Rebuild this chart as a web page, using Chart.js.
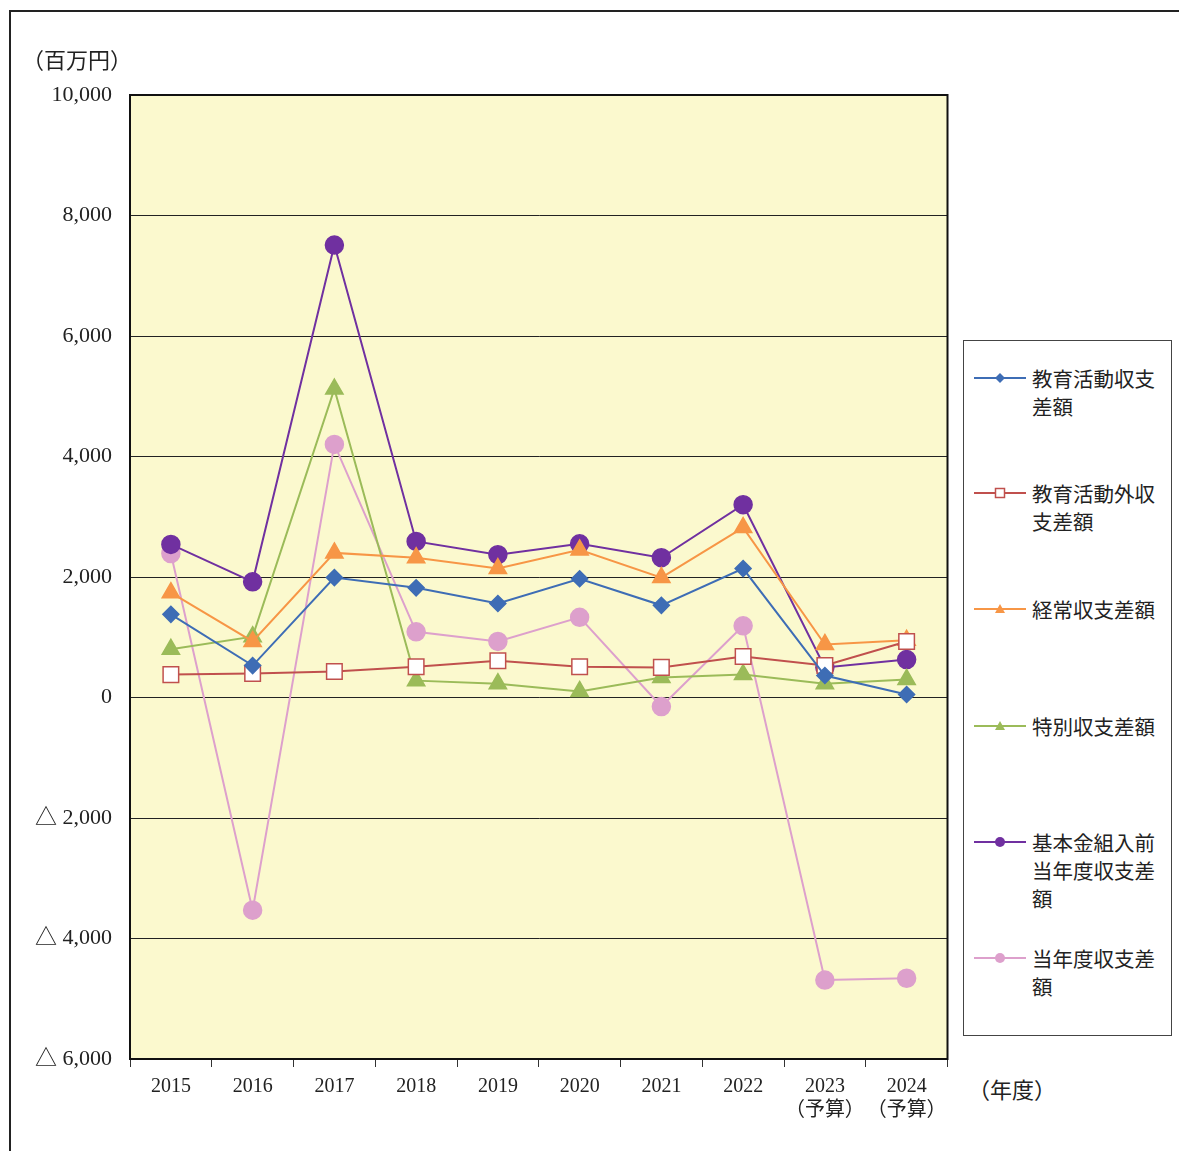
<!DOCTYPE html>
<html>
<head>
<meta charset="utf-8">
<script src="https://cdn.jsdelivr.net/npm/chart.js@4/dist/chart.umd.min.js"></script>
<style>
  body { margin: 0; background: #fff; font-family: "Liberation Serif", "Noto Sans CJK JP", serif; }
  #wrap { position: relative; width: 1179px; height: 1151px; overflow: hidden; }
  #frame { position: absolute; left: 9px; top: 10px; width: 1200px; height: 1200px; border-left: 2px solid #222; border-top: 2px solid #222; }
  #cv { position: absolute; left: 0; top: 0; }
  .lbl { position: absolute; font-size: 22px; color: #222; font-family: "Noto Sans CJK JP", sans-serif; }
  #legend { position: absolute; left: 963px; top: 340px; width: 207px; height: 694px; border: 1px solid #444; background: #fff; }
  .item { position: absolute; left: 10px; display: flex; align-items: flex-start; }
  .item svg { flex: none; margin-top: 3px; }
  .item span { font-family: "Noto Sans CJK JP", sans-serif; font-size: 20.5px; line-height: 28px; width: 128px; color: #222; margin-left: 6px; }
</style>
</head>
<body>
<div id="wrap">
  <div id="frame"></div>
  <canvas id="cv" width="960" height="1151"></canvas>
  <div class="lbl" style="left:22px;top:42px">（百万円）</div>
  <div class="lbl" style="left:968px;top:1072px">（年度）</div>
  <div id="legend"></div>
</div>
<script>
  // data (百万円)
  var years = ["2015", "2016", "2017", "2018", "2019", "2020", "2021", "2022", ["2023", "（予算）"], ["2024", "（予算）"]];
  var kyoiku = [1380, 530, 1990, 1820, 1560, 1970, 1530, 2140, 365, 50];
  var kyoikuGai = [380, 400, 430, 510, 610, 510, 500, 680, 530, 930];
  var keijo = [1740, 930, 2400, 2320, 2140, 2450, 1990, 2820, 880, 950];
  var tokubetsu = [800, 1010, 5120, 280, 230, 100, 330, 380, 230, 300];
  var kihonMae = [2540, 1920, 7510, 2590, 2370, 2550, 2320, 3200, 500, 630];
  var tonendo = [2390, -3530, 4200, 1090, 930, 1330, -150, 1190, -4690, -4660];

  var series = [
    { label: "教育活動収支差額", data: kyoiku, color: "#3E6DB5", style: "rectRot", r: 8, fill: "#3E6DB5" },
    { label: "教育活動外収支差額", data: kyoikuGai, color: "#C0504D", style: "rect", r: 11, fill: "#fff" },
    { label: "経常収支差額", data: keijo, color: "#F79646", style: "triangle", r: 10, fill: "#F79646" },
    { label: "特別収支差額", data: tokubetsu, color: "#9BBB59", style: "triangle", r: 10, fill: "#9BBB59" },
    { label: "基本金組入前当年度収支差額", data: kihonMae, color: "#7030A0", style: "circle", r: 9, fill: "#7030A0" },
    { label: "当年度収支差額", data: tonendo, color: "#DDA0CC", style: "circle", r: 9, fill: "#DDA0CC" }
  ];

  var bgPlugin = {
    id: "bg",
    beforeDraw: function (chart) {
      var a = chart.chartArea, c = chart.ctx;
      c.save();
      c.fillStyle = "#FBF9CE";
      c.fillRect(a.left, a.top, a.right - a.left, a.bottom - a.top);
      c.restore();
    },
    afterDatasetsDraw: function (chart) {
      var a = chart.chartArea, c = chart.ctx;
      c.save();
      c.strokeStyle = "#111";
      c.lineWidth = 2;
      c.strokeRect(a.left, a.top, a.right - a.left, a.bottom - a.top);
      c.restore();
    }
  };

  var fmt = function (v) {
    var s = Math.abs(v).toLocaleString("en-US");
    return v < 0 ? "△ " + s : s;
  };

  new Chart(document.getElementById("cv"), {
    type: "line",
    data: {
      labels: years,
      datasets: series.map(function (s) {
        return {
          label: s.label, data: s.data, borderColor: s.color, backgroundColor: s.fill,
          pointBackgroundColor: s.fill, pointBorderColor: s.color, pointBorderWidth: 1.5,
          pointStyle: s.style, pointRadius: s.r, borderWidth: 2, tension: 0
        };
      })
    },
    options: {
      responsive: false,
      animation: false,
      layout: { padding: { left: 10, right: 10, top: 95, bottom: 0 } },
      plugins: { legend: { display: false }, tooltip: { enabled: false } },
      scales: {
        x: {
          offset: true,
          grid: { offset: true, drawOnChartArea: false, color: "#333", tickLength: 8 },
          border: { color: "#111" },
          ticks: { color: "#222", autoSkip: false, font: { size: 20, family: "Liberation Serif, Noto Sans CJK JP" }, padding: 8, maxRotation: 0 },
          afterFit: function (s) { s.height = 92; }
        },
        y: {
          min: -6000, max: 10000,
          grid: { color: "#222", drawTicks: false },
          border: { color: "#111" },
          ticks: { stepSize: 2000, color: "#222", padding: 18, font: { size: 22, family: "Liberation Serif, Noto Sans CJK JP" }, callback: fmt },
          afterFit: function (s) { s.width = 120; }
        }
      }
    },
    plugins: [bgPlugin]
  });

  // legend
  var legendTops = [377, 492, 608, 725, 841, 957];
  var legendNames = ["教育活動収支差額", "教育活動外収支差額", "経常収支差額", "特別収支差額", "基本金組入前当年度収支差額", "当年度収支差額"];
  var mk = function (s) {
    var c = s.color, m;
    if (s.style === "rectRot") m = '<polygon points="26,6 31,11 26,16 21,11" fill="' + c + '"/>';
    else if (s.style === "rect") m = '<rect x="21.5" y="6.5" width="9" height="9" fill="#fff" stroke="' + c + '" stroke-width="1.5"/>';
    else if (s.style === "triangle") m = '<polygon points="26,6 31,15 21,15" fill="' + c + '"/>';
    else m = '<circle cx="26" cy="11" r="5" fill="' + c + '"/>';
    return '<svg width="52" height="22"><line x1="0" y1="11" x2="52" y2="11" stroke="' + c + '" stroke-width="2"/>' + m + '</svg>';
  };
  var lg = document.getElementById("legend");
  series.forEach(function (s, i) {
    var d = document.createElement("div");
    d.className = "item";
    d.style.top = (legendTops[i] - 340 - 14) + "px";
    d.innerHTML = mk(s) + "<span>" + legendNames[i] + "</span>";
    lg.appendChild(d);
  });
</script>
</body>
</html>
